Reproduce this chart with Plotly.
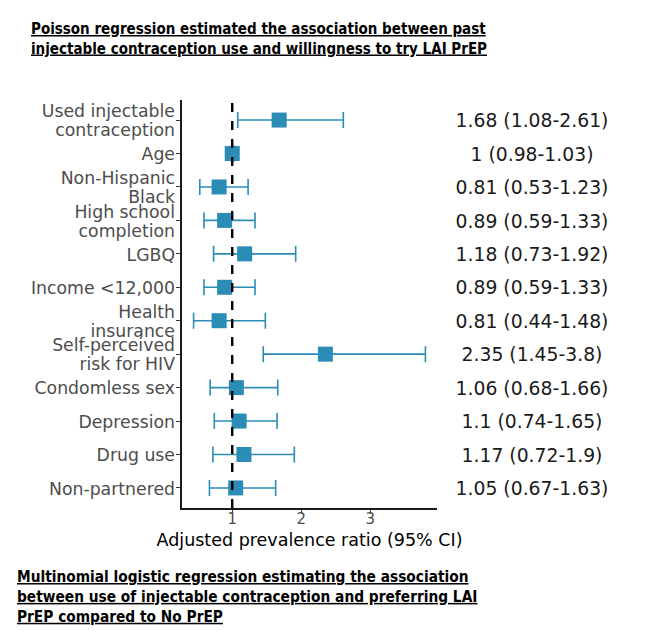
import plotly.graph_objects as go

categories = ["Used injectable<br>contraception", "Age", "Non-Hispanic<br>Black",
              "High school<br>completion", "LGBQ", "Income <12,000", "Health<br>insurance",
              "Self-perceived<br>risk for HIV", "Condomless sex", "Depression", "Drug use",
              "Non-partnered"]
estimate = [1.68, 1.0, 0.81, 0.89, 1.18, 0.89, 0.81, 2.35, 1.06, 1.10, 1.17, 1.05]
lower = [1.08, 0.98, 0.53, 0.59, 0.73, 0.59, 0.44, 1.45, 0.68, 0.74, 0.72, 0.67]
upper = [2.61, 1.03, 1.23, 1.33, 1.92, 1.33, 1.48, 3.8, 1.66, 1.65, 1.9, 1.63]
ci_labels = ["1.68 (1.08-2.61)", "1 (0.98-1.03)", "0.81 (0.53-1.23)", "0.89 (0.59-1.33)",
             "1.18 (0.73-1.92)", "0.89 (0.59-1.33)", "0.81 (0.44-1.48)", "2.35 (1.45-3.8)",
             "1.06 (0.68-1.66)", "1.1 (0.74-1.65)", "1.17 (0.72-1.9)", "1.05 (0.67-1.63)"]
x_ticks = [1, 2, 3]

title_top = ("<b><u>Poisson regression estimated the association between past</u></b><br>"
             "<b><u>injectable contraception use and willingness to try LAI PrEP</u></b>")
title_bottom = ("<b><u>Multinomial logistic regression estimating the association</u></b><br>"
                "<b><u>between use of injectable contraception and preferring LAI</u></b><br>"
                "<b><u>PrEP compared to No PrEP</u></b>")

BLUE = "#2b8cb6"
FONT = "DejaVu Sans, Verdana, sans-serif"
TFONT = "DejaVu Sans Condensed, DejaVu Sans, sans-serif"
XMIN, XMAX = 0.272, 3.968

pos = list(range(len(categories)))
err_plus = [u - e for u, e in zip(upper, estimate)]
err_minus = [e - l for e, l in zip(estimate, lower)]

ROW_PX = 33.5                 # pixel height of one category row
LINE_STEP = 19 / ROW_PX       # line spacing of multi-line labels, in category units
NUDGE = 2.5 / ROW_PX          # small downward nudge to centre text glyphs on the row

# category labels, drawn line by line so multi-line labels keep a tight line height
lab_y, lab_t = [], []
for i, cat in enumerate(categories):
    parts = cat.split("<br>")
    n = len(parts)
    for j, p in enumerate(parts):
        lab_y.append(i + NUDGE + (j - (n - 1) / 2) * LINE_STEP)
        lab_t.append(p)

# page has an 8px body margin; figure coordinates = screen - 8
OFF = 8
W, H = 650 - OFF, 642 - OFF
T = 100 - OFF
B = H - (508 - OFF)
ph = H - T - B


def fx(x):  # screen x -> paper fraction
    return (x - OFF) / W


def fy(y):  # screen y -> paper fraction
    return (H - B - (y - OFF)) / ph


fig = go.Figure()
fig.add_trace(go.Scatter(
    x=estimate, y=pos, mode="markers",
    marker=dict(symbol="square", size=15, color=BLUE),
    error_x=dict(type="data", symmetric=False, array=err_plus, arrayminus=err_minus,
                 color=BLUE, thickness=1.6, width=8),
    showlegend=False, hoverinfo="skip",
))
fig.add_trace(go.Scatter(
    x=[0] * len(categories), y=[p + NUDGE for p in pos], mode="text", text=ci_labels,
    textposition="middle center", textfont=dict(family=FONT, size=18.8, color="#1a1a1a"),
    xaxis="x2", yaxis="y", cliponaxis=False, showlegend=False, hoverinfo="skip",
))
fig.add_trace(go.Scatter(
    x=[1] * len(lab_t), y=lab_y, mode="text", text=lab_t,
    textposition="middle left", textfont=dict(family=FONT, size=17.3, color="#4d4d4d"),
    xaxis="x3", yaxis="y", cliponaxis=False, showlegend=False, hoverinfo="skip",
))

fig.add_shape(type="line", x0=1, x1=1, y0=0, y1=1, xref="x", yref="paper",
              line=dict(color="black", width=2.4, dash="dash"), layer="above")

fig.update_layout(
    width=W, height=H,
    margin=dict(l=0, r=0, t=T, b=B, autoexpand=False),
    plot_bgcolor="white", paper_bgcolor="white",
    font=dict(family=FONT, color="#4d4d4d"),
    xaxis=dict(domain=[fx(182), fx(437)], range=[XMIN, XMAX], tickvals=x_ticks,
               showgrid=False, zeroline=False, showline=True, linecolor="#1a1a1a",
               linewidth=1.6, ticks="outside", ticklen=4, tickcolor="#333333",
               ticklabelstandoff=-8,
               tickfont=dict(size=15, color="#4d4d4d", family=FONT),
               title=dict(text="Adjusted prevalence ratio (95% CI)", standoff=7,
                          font=dict(size=17.5, color="black", family=FONT))),
    xaxis2=dict(domain=[fx(437), fx(627)], range=[-1, 1], visible=False, anchor="y"),
    xaxis3=dict(domain=[0, fx(175)], range=[0, 1], visible=False, anchor="y"),
    yaxis=dict(range=[len(categories) - 0.4, -0.6], tickvals=pos, showticklabels=False,
               anchor="x",
               showgrid=False, zeroline=False, showline=True,
               linecolor="#1a1a1a", linewidth=1.6, ticks="outside", ticklen=4,
               tickcolor="#333333"),
    annotations=[
        dict(text=title_top, x=fx(29), y=fy(18), xref="paper", yref="paper",
             xanchor="left", yanchor="top", align="left", showarrow=False,
             font=dict(family=TFONT, size=15, color="black")),
        dict(text=title_bottom, x=fx(15), y=fy(566), xref="paper", yref="paper",
             xanchor="left", yanchor="top", align="left", showarrow=False,
             font=dict(family=TFONT, size=15.3, color="black")),
    ],
)
fig.write_html("out.html")
